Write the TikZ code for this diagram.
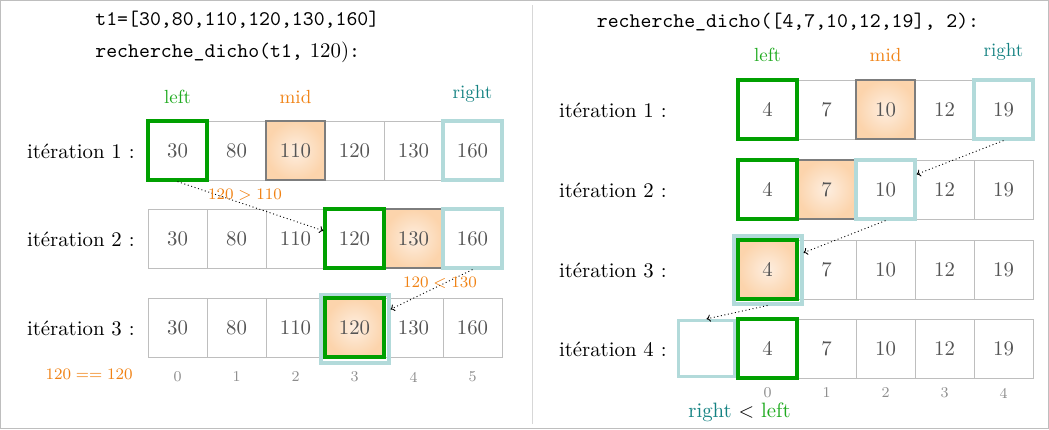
\documentclass[tikz,border=0pt]{standalone}
\usetikzlibrary{arrows.meta}
\definecolor{framegray}{RGB}{190,190,190}
\definecolor{divgray}{RGB}{215,215,215}
\definecolor{cellgray}{RGB}{190,190,190}
\definecolor{numgray}{RGB}{85,85,85}
\definecolor{idxgray}{RGB}{140,140,140}
\definecolor{lgreen}{RGB}{0,160,0}
\definecolor{lgreentext}{RGB}{30,170,30}
\definecolor{lcyan}{RGB}{178,218,218}
\definecolor{tealtext}{RGB}{20,130,130}
\definecolor{orangetext}{RGB}{240,130,20}
\definecolor{midborder}{RGB}{125,125,125}
\definecolor{peachin}{RGB}{253,238,224}
\definecolor{peachout}{RGB}{252,212,172}
\begin{document}
\begin{tikzpicture}[x=0.5pt,y=-0.5pt,
  font=\fontsize{10.4}{12.5}\selectfont,
  cell/.style={draw=cellgray, line width=0.5pt, minimum size=29.5pt, inner sep=0pt, text=numgray},
  midcell/.style={cell, draw=midborder, line width=0.6pt, inner color=peachin, outer color=peachout},
  leftcell/.style={cell, draw=lgreen, line width=1.6pt},
  rightcell/.style={cell, draw=lcyan, line width=1.6pt},
  foundframe/.style={draw=lcyan, line width=2pt, minimum size=34pt, inner sep=0pt},
  foundcell/.style={midcell, draw=lgreen, line width=1.6pt},
  rowlabel/.style={anchor=east, text=black, inner sep=0pt},
  idx/.style={font=\fontsize{7.5}{9}\selectfont, text=idxgray},
  hdr/.style={font=\fontsize{9.5}{11}\selectfont, anchor=base},
  cmp/.style={font=\fontsize{8.5}{10}\selectfont, text=orangetext},
  hop/.style={-{To[length=2pt,width=3.6pt]}, line width=0.45pt, dash pattern=on 0.5pt off 1.3pt, black}
]
\useasboundingbox (0,0) rectangle (1049,429);
\draw[framegray, line width=0.5pt] (0.5,0.5) rectangle (1048.5,428.5);
\draw[divgray, line width=0.5pt] (532,5) -- (532,424);

% ---------------- left panel ----------------
\node[anchor=west, inner sep=0pt, font=\fontsize{10.4}{12.5}\ttfamily] (t1) at (95,20) {t1=[30,80,110,120,130,160]};
\node[anchor=west, inner sep=0pt] (call1) at (95,52) {\texttt{recherche\_dicho(t1,} 120)\texttt{:}};

\node[hdr, text=lgreentext] (hl1) at (177.5,103) {left};
\node[hdr, text=orangetext] (hm1) at (295.5,103) {mid};
\node[hdr, text=tealtext] (hr1) at (472.5,98) {right};

\node[rowlabel] (li1) at (135,151) {itération 1 :};
\node[rowlabel] (li2) at (135,239) {itération 2 :};
\node[rowlabel] (li3) at (135,328) {itération 3 :};

% row 1
\foreach \i/\v in {1/80,3/120,4/130} \node[cell] (L1c\i) at ({177.5+59*\i},150.5) {\v};
\node[midcell] (L1c2) at ({177.5+59*2},150.5) {110};
\node[leftcell] (L1c0) at (177.5,150.5) {30};
\node[rightcell] (L1c5) at ({177.5+59*5},150.5) {160};

% row 2
\foreach \i/\v in {0/30,1/80,2/110} \node[cell] (L2c\i) at ({177.5+59*\i},238.5) {\v};
\node[midcell] (L2c4) at ({177.5+59*4},238.5) {130};
\node[leftcell] (L2c3) at ({177.5+59*3},238.5) {120};
\node[rightcell] (L2c5) at ({177.5+59*5},238.5) {160};

% row 3
\foreach \i/\v in {0/30,1/80,2/110,4/130,5/160} \node[cell] (L3c\i) at ({177.5+59*\i},327.5) {\v};
\node[foundframe] (L3f) at ({177.5+59*3},328.5) {};
\node[foundcell] (L3c3) at ({177.5+59*3},327.5) {120};

\foreach \i in {0,...,5} \node[idx] (lx\i) at ({177.5+59*\i},377) {\i};
\node[cmp, anchor=east, inner sep=0pt] (eq) at (133,374) {$120 == 120$};

\draw[hop] (L1c0.south) -- (L2c3.166);
\node[cmp] (c1) at (245,195) {$120 > 110$};
\draw[hop] (L2c5.south) -- (L3f.28);
\node[cmp] (c2) at (440,283) {$120 < 130$};

% ---------------- right panel ----------------
\node[font=\fontsize{10.4}{12.5}\ttfamily] (call2) at (788,22) {recherche\_dicho([4,7,10,12,19], 2):};

\node[hdr, text=lgreentext] (hl2) at (767.5,61) {left};
\node[hdr, text=orangetext] (hm2) at (885.5,61) {mid};
\node[hdr, text=tealtext] (hr2) at (1003.5,56) {right};

\node[rowlabel] (ri1) at (667,110) {itération 1 :};
\node[rowlabel] (ri2) at (667,190) {itération 2 :};
\node[rowlabel] (ri3) at (667,270) {itération 3 :};
\node[rowlabel] (ri4) at (667,349) {itération 4 :};

% row 1
\foreach \i/\v in {1/7,3/12} \node[cell] (R1c\i) at ({767.5+59*\i},109.5) {\v};
\node[midcell] (R1c2) at ({767.5+59*2},109.5) {10};
\node[leftcell] (R1c0) at (767.5,109.5) {4};
\node[rightcell] (R1c4) at ({767.5+59*4},109.5) {19};

% row 2
\foreach \i/\v in {3/12,4/19} \node[cell] (R2c\i) at ({767.5+59*\i},189.5) {\v};
\node[midcell] (R2c1) at ({767.5+59*1},189.5) {7};
\node[leftcell] (R2c0) at (767.5,189.5) {4};
\node[rightcell] (R2c2) at ({767.5+59*2},189.5) {10};

% row 3
\foreach \i/\v in {1/7,2/10,3/12,4/19} \node[cell] (R3c\i) at ({767.5+59*\i},269.5) {\v};
\node[foundframe] (R3f) at (767.5,269.5) {};
\node[foundcell] (R3c0) at (767.5,269.5) {4};

% row 4
\foreach \i/\v in {1/7,2/10,3/12,4/19} \node[cell] (R4c\i) at ({767.5+59*\i},348.5) {\v};
\node[rightcell, minimum size=28pt] (R4m) at (706.5,348.5) {};
\node[leftcell] (R4c0) at (767.5,348.5) {4};

\foreach \i in {0,...,4} \node[idx] (rx\i) at ({767.5+59*\i},393) {\i};
\node (rl) at (739.5,412) {\textcolor{tealtext}{right} $<$ \textcolor{lgreentext}{left}};

\draw[hop] (R1c4.south) -- (R2c2.26);
\draw[hop] (R2c2.south) -- (R3f.25);
\draw[hop] (R3f.south) -- (R4m.north);
\end{tikzpicture}
\end{document}
